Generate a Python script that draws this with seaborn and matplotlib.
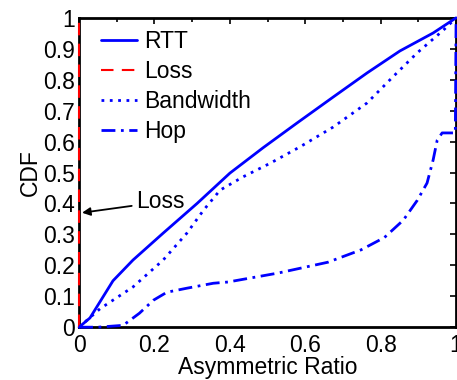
import matplotlib
matplotlib.use("Agg")
import matplotlib.pyplot as plt
import seaborn as sns
import pandas as pd

sns.set_style("white")
plt.rcParams['font.family'] = ['Liberation Sans', 'DejaVu Sans']
plt.rcParams['text.color'] = 'black'
plt.rcParams['axes.labelcolor'] = 'black'
plt.rcParams['xtick.color'] = 'black'
plt.rcParams['ytick.color'] = 'black'

rtt_x = [0.0, 0.029, 0.09, 0.143, 0.223, 0.313, 0.40, 0.488, 0.578, 0.674, 0.764, 0.851, 0.939, 1.0]
rtt_y = [0.0, 0.03, 0.15, 0.217, 0.304, 0.40, 0.498, 0.58, 0.66, 0.744, 0.822, 0.893, 0.951, 1.0]

loss_x = [0.0, 0.0]
loss_y = [0.0, 1.0]

bw_x = [0.0, 0.056, 0.143, 0.223, 0.286, 0.33, 0.374, 0.435, 0.507, 0.586, 0.674, 0.764, 0.833, 0.897, 0.966, 1.0]
bw_y = [0.0, 0.06, 0.13, 0.217, 0.304, 0.378, 0.443, 0.486, 0.53, 0.583, 0.647, 0.725, 0.81, 0.887, 0.96, 1.0]

hop_x = [0.0, 0.05, 0.117, 0.16, 0.197, 0.233, 0.286, 0.356, 0.395, 0.528, 0.66, 0.748, 0.81, 0.86, 0.897, 0.923, 0.939, 0.95, 0.963, 0.998, 1.0]
hop_y = [0.0, 0.0, 0.006, 0.045, 0.087, 0.113, 0.126, 0.142, 0.146, 0.175, 0.21, 0.25, 0.29, 0.346, 0.41, 0.466, 0.54, 0.605, 0.628, 0.628, 1.0]

yticks = [0, 0.1, 0.2, 0.3, 0.4, 0.5, 0.6, 0.7, 0.8, 0.9, 1]
ytick_labels = ["0", "0.1", "0.2", "0.3", "0.4", "0.5", "0.6", "0.7", "0.8", "0.9", "1"]
xticks = [0, 0.2, 0.4, 0.6, 0.8, 1]
xtick_labels = ["0", "0.2", "0.4", "0.6", "0.8", "1"]

fig = plt.figure(figsize=(4.57, 3.8), dpi=100)
ax = fig.add_axes([0.173, 0.139, 0.825, 0.814])

series = [
    ("RTT", rtt_x, rtt_y, "#0000ff", "-", 2.0),
    ("Loss", loss_x, loss_y, "#ff0000", (0, (6, 4)), 1.5),
    ("Bandwidth", bw_x, bw_y, "#0000ff", (0, (1, 2)), 2.0),
    ("Hop", hop_x, hop_y, "#0000ff", (0, (5, 2, 1, 2)), 2.0),
]
for name, xs, ys, c, ls, lw in series:
    df = pd.DataFrame({"x": xs, "y": ys})
    sns.lineplot(data=df, x="x", y="y", sort=False, estimator=None, ax=ax,
                 color=c, linestyle=ls, linewidth=lw, label=name)

for ln in ax.lines:
    ln.set_clip_on(False)
    ln.set_zorder(5)

ax.set_xlim(0, 1)
ax.set_ylim(0, 1)
ax.set_xticks(xticks)
ax.set_xticklabels(xtick_labels)
ax.set_yticks(yticks)
ax.set_yticklabels(ytick_labels)
ax.set_xticks([0.1, 0.3, 0.5, 0.7, 0.9], minor=True)
ax.tick_params(axis='both', which='both', direction='in', top=True, right=True,
               labelsize=16.5, length=4, width=1.2, pad=3)
ax.tick_params(axis='x', which='both', pad=5)
ax.tick_params(axis='x', which='minor', length=3)
for s in ax.spines.values():
    s.set_linewidth(2)
    s.set_color("black")
    s.set_zorder(3)

ax.set_xlabel("Asymmetric Ratio", fontsize=16.5, labelpad=-1)
ax.set_ylabel("CDF", fontsize=16.5, labelpad=1)

ax.annotate("Loss", xy=(0.008, 0.37), xytext=(0.152, 0.405), fontsize=16.5,
            ha="left", va="center",
            arrowprops=dict(arrowstyle="-|>", color="black", lw=1.3,
                            mutation_scale=12, shrinkA=1, shrinkB=0))

leg = ax.legend(loc="upper left", frameon=False, fontsize=16.5, handlelength=1.55,
                handletextpad=0.3, labelspacing=0.3, borderaxespad=0.0,
                borderpad=0.4, bbox_to_anchor=(0.035, 0.99))

fig.savefig("out.png", dpi=100)
